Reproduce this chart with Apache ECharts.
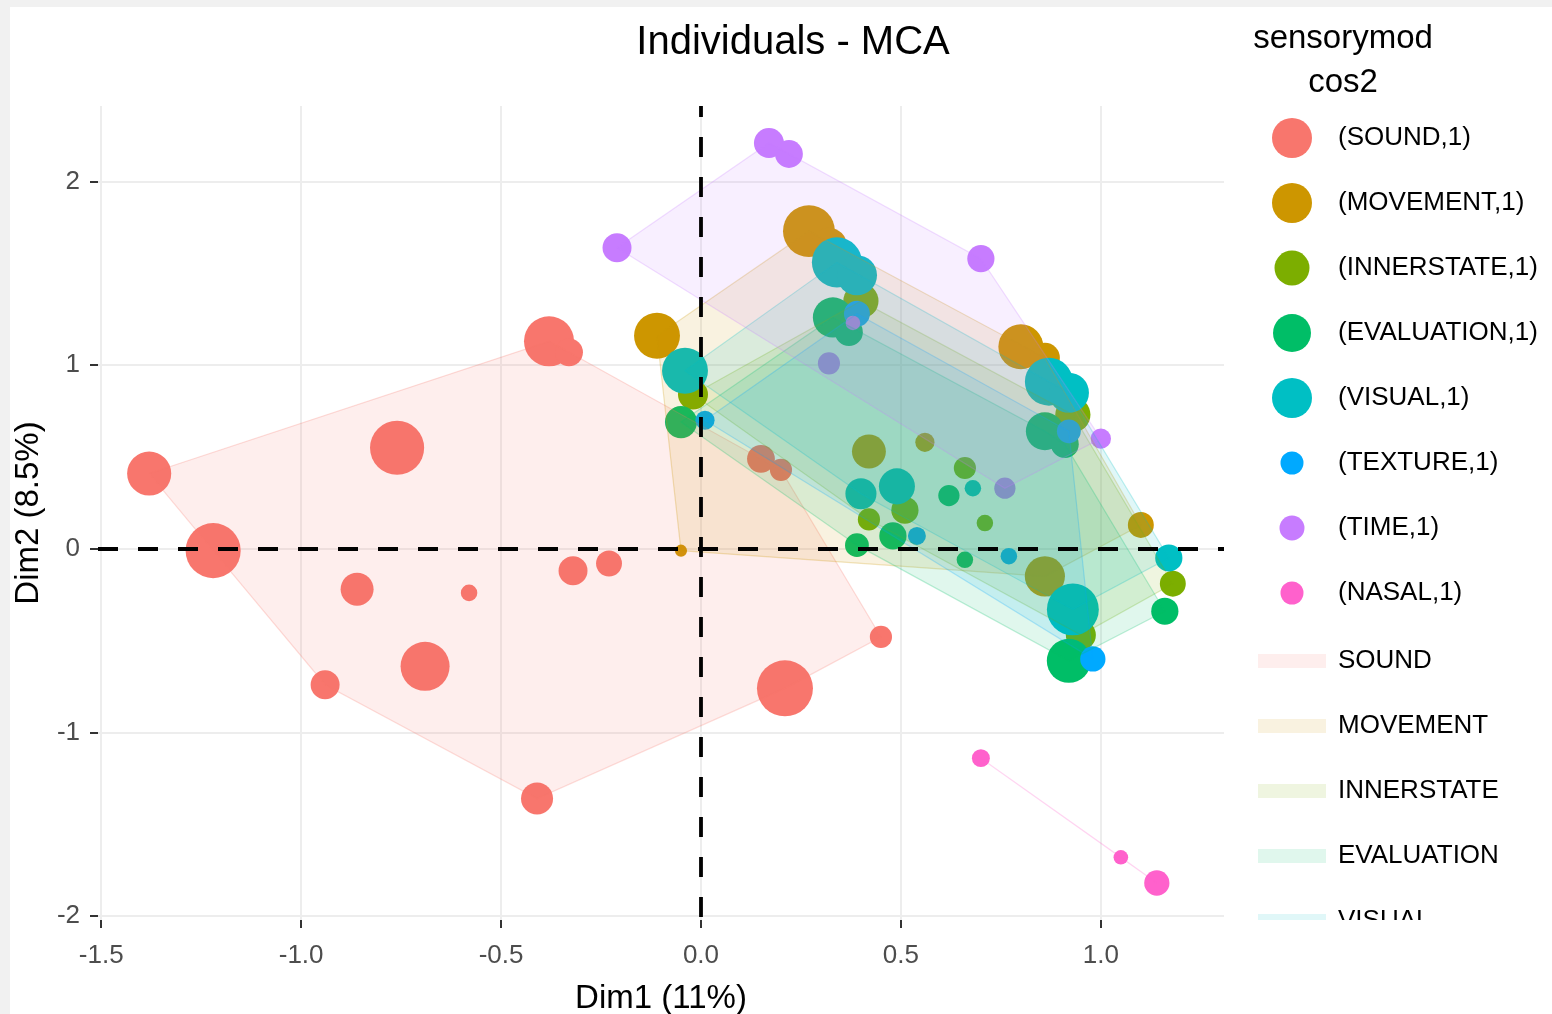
<!DOCTYPE html>
<html>
<head>
<meta charset="utf-8">
<script src="https://cdn.jsdelivr.net/npm/echarts@6/dist/echarts.min.js"></script>
<style>
  html, body { margin: 0; padding: 0; width: 1552px; height: 1014px; overflow: hidden; background: #f1f1f1; }
  #chart { position: absolute; left: 10px; top: 7px; width: 1542px; height: 1007px; background: #ffffff; }
</style>
</head>
<body>
<div id="chart"></div>
<script>
// MCA individuals, coloured by sensory modality; each row is [Dim1, Dim2, cos2]
const soundInd = [
  [-1.38, 0.41, 0.55], [-1.22, -0.01, 0.96], [-0.76, 0.55, 0.92], [-0.86, -0.22, 0.25],
  [-0.58, -0.24, 0.02], [-0.94, -0.74, 0.17], [-0.69, -0.64, 0.72], [-0.41, -1.36, 0.23],
  [-0.32, -0.12, 0.17], [-0.23, -0.08, 0.12], [-0.38, 1.13, 0.76], [-0.33, 1.07, 0.15],
  [0.21, -0.76, 1.00], [0.45, -0.48, 0.07], [0.15, 0.49, 0.15], [0.20, 0.43, 0.07]
];
const movementInd = [
  [0.27, 1.73, 0.83], [0.32, 1.65, 0.32], [-0.11, 1.16, 0.61], [-0.05, -0.01, 0.002],
  [0.56, 0.58, 0.04], [0.80, 1.10, 0.58], [0.86, 1.04, 0.19], [1.10, 0.13, 0.12],
  [0.42, 0.53, 0.27], [0.86, -0.15, 0.43]
];
const innerstateInd = [
  [-0.02, 0.84, 0.19], [0.42, 0.16, 0.07], [0.51, 0.21, 0.14], [0.66, 0.44, 0.07],
  [0.71, 0.14, 0.02], [1.18, -0.19, 0.12], [0.95, -0.47, 0.19], [0.93, 0.73, 0.30],
  [0.40, 1.35, 0.30]
];
const evaluationInd = [
  [-0.05, 0.69, 0.23], [0.39, 0.02, 0.09], [0.48, 0.07, 0.14], [0.62, 0.29, 0.06],
  [0.66, -0.06, 0.02], [1.16, -0.34, 0.14], [0.92, -0.61, 0.55], [0.86, 0.64, 0.37],
  [0.91, 0.57, 0.15], [0.33, 1.26, 0.43], [0.37, 1.18, 0.15]
];
const visualInd = [
  [0.34, 1.56, 0.76], [0.39, 1.49, 0.43], [-0.04, 0.97, 0.61], [0.40, 0.30, 0.21],
  [0.49, 0.34, 0.32], [0.87, 0.91, 0.68], [0.92, 0.85, 0.43], [0.68, 0.33, 0.02],
  [1.17, -0.05, 0.14], [0.93, -0.33, 0.83]
];
const textureInd = [
  [0.01, 0.70, 0.04], [0.54, 0.07, 0.03], [0.77, -0.04, 0.02], [0.98, -0.60, 0.11],
  [0.92, 0.64, 0.09], [0.39, 1.28, 0.12]
];
const timeInd = [
  [0.17, 2.21, 0.19], [0.22, 2.15, 0.15], [-0.21, 1.64, 0.17], [0.70, 1.58, 0.14],
  [1.00, 0.60, 0.05], [0.76, 0.33, 0.06], [0.32, 1.01, 0.07], [0.38, 1.23, 0.01]
];
const nasalInd = [
  [0.70, -1.14, 0.03], [1.05, -1.68, 0.01], [1.14, -1.82, 0.11]
];

const groupNames = ['SOUND', 'MOVEMENT', 'INNERSTATE', 'EVALUATION', 'VISUAL', 'TEXTURE', 'TIME', 'NASAL'];
const groupData = [soundInd, movementInd, innerstateInd, evaluationInd, visualInd, textureInd, timeInd, nasalInd];
const xTicks = [-1.5, -1.0, -0.5, 0.0, 0.5, 1.0];
const yTicks = [-2, -1, 0, 1, 2];

// ---- styling ----
const FONT = '"Liberation Sans", Arial, Helvetica, sans-serif';
const hue = ['#F8766D', '#CD9600', '#7CAE00', '#00BE67', '#00BFC4', '#00A9FF', '#C77CFF', '#FF61CC'];
const legendKeySize = [40, 40, 35, 38, 40, 23, 25, 23];
const HULL_FILL = 0.12, HULL_LINE = 0.25;

function rgba(hex, a) {
  const n = parseInt(hex.slice(1), 16);
  return `rgba(${(n >> 16) & 255},${(n >> 8) & 255},${n & 255},${a})`;
}
// point diameter from cos2 (area grows with cos2)
const pointSize = c => 10 + 46 * Math.sqrt(c);

// panel limits: data range with 5% expansion on each side
const all = groupData.flat();
function expand(vals) {
  const lo = Math.min(...vals), hi = Math.max(...vals), pad = (hi - lo) * 0.05;
  return [lo - pad, hi + pad];
}
const [xMin, xMax] = expand(all.map(p => p[0]));
const [yMin, yMax] = expand(all.map(p => p[1]));

// convex hull (monotone chain)
function convexHull(pts) {
  const p = pts.map(d => [d[0], d[1]]).sort((a, b) => a[0] - b[0] || a[1] - b[1]);
  const cross = (o, a, b) => (a[0] - o[0]) * (b[1] - o[1]) - (a[1] - o[1]) * (b[0] - o[0]);
  const lower = [], upper = [];
  for (const q of p) {
    while (lower.length >= 2 && cross(lower[lower.length - 2], lower[lower.length - 1], q) <= 0) lower.pop();
    lower.push(q);
  }
  for (let i = p.length - 1; i >= 0; i--) {
    const q = p[i];
    while (upper.length >= 2 && cross(upper[upper.length - 2], upper[upper.length - 1], q) <= 0) upper.pop();
    upper.push(q);
  }
  upper.pop(); lower.pop();
  return lower.concat(upper);
}

const series = [];
groupNames.forEach((g, i) => {
  series.push({
    name: '(' + g + ',1)',
    type: 'scatter',
    z: 2,
    silent: true,
    data: groupData[i],
    symbol: 'circle',
    symbolSize: v => pointSize(v[2]),
    itemStyle: { color: hue[i], opacity: 1 },
    emphasis: { disabled: true }
  });
});
groupNames.forEach((g, i) => {
  const hull = convexHull(groupData[i]);
  series.push({
    name: g,
    type: 'custom',
    z: 3,
    silent: true,
    data: groupData[i],
    encode: { x: 0, y: 1 },
    itemStyle: { color: rgba(hue[i], HULL_FILL) },
    renderItem: (params, api) => {
      if (params.dataIndex !== 0) return null;
      return {
        type: 'polygon',
        shape: { points: hull.map(p => api.coord(p)) },
        style: { fill: rgba(hue[i], HULL_FILL), stroke: rgba(hue[i], HULL_LINE), lineWidth: 1.2 }
      };
    }
  });
});
// dashed reference lines through the origin
series.push({
  name: 'origin',
  type: 'scatter',
  data: [],
  z: 5,
  markLine: {
    silent: true,
    symbol: ['none', 'none'],
    label: { show: false },
    lineStyle: { color: '#000000', width: 3.8, type: [20, 20], opacity: 1 },
    emphasis: { disabled: true },
    data: [
      { xAxis: 0, lineStyle: { color: '#000000', width: 3.8, type: [20, 20], dashOffset: 37 } },
      { yAxis: 0, lineStyle: { color: '#000000', width: 3.8, type: [20, 20], dashOffset: 0 } }
    ]
  }
});

// legend: one block per entry so every key keeps its own size
const legends = [];
const pointRowY = [131, 196, 261, 326, 391, 456, 521, 586];
groupNames.forEach((g, i) => {
  const d = legendKeySize[i];
  legends.push({
    data: [{ name: '(' + g + ',1)', icon: 'circle', itemStyle: { color: hue[i] } }],
    left: 1282 - d / 2,
    top: pointRowY[i] - Math.max(d, 26) / 2,
    itemWidth: 82, itemHeight: d,
    padding: 0, selectedMode: false,
    textStyle: { fontSize: 26, lineHeight: 26, color: '#000000', fontFamily: FONT }
  });
});
const hullRowY = [654, 719, 784, 849, 914];
hullRowY.forEach((y, i) => {
  legends.push({
    data: [{ name: groupNames[i], icon: 'rect', itemStyle: { color: rgba(hue[i], HULL_FILL), borderWidth: 0 } }],
    left: 1248,
    top: y - 13,
    itemWidth: 68, itemHeight: 14,
    padding: 0, selectedMode: false,
    textStyle: { fontSize: 26, lineHeight: 26, color: '#000000', fontFamily: FONT, padding: [0, 0, 0, 7] }
  });
});

const axisTickStyle = { color: '#333333', width: 2 };
const chart = echarts.init(document.getElementById('chart'), null, { renderer: 'canvas' });
chart.setOption({
  backgroundColor: '#ffffff',
  animation: false,
  grid: { left: 88, right: 328, top: 99, bottom: 94, containLabel: false, outerBoundsMode: 'none' },
  xAxis: {
    type: 'value', min: xMin, max: xMax,
    axisLine: { show: true, onZero: false, lineStyle: { color: 'rgba(0,0,0,0)' } },
    axisTick: { show: true, customValues: xTicks, length: 8, lineStyle: axisTickStyle },
    axisLabel: { customValues: xTicks, formatter: v => v.toFixed(1), margin: 23, color: '#4d4d4d', fontSize: 26, fontFamily: FONT },
    splitLine: { show: true, lineStyle: { color: '#ededed', width: 2 } },
    name: 'Dim1 (11%)', nameLocation: 'middle', nameGap: 62,
    nameTextStyle: { fontSize: 33, color: '#000000', fontFamily: FONT }
  },
  yAxis: {
    type: 'value', min: yMin, max: yMax,
    axisLine: { show: true, onZero: false, lineStyle: { color: 'rgba(0,0,0,0)' } },
    axisTick: { show: true, customValues: yTicks, length: 8, lineStyle: axisTickStyle },
    axisLabel: { customValues: yTicks, formatter: v => String(v), margin: 18, color: '#4d4d4d', fontSize: 26, fontFamily: FONT },
    splitLine: { show: true, lineStyle: { color: '#ededed', width: 2 } },
    name: 'Dim2 (8.5%)', nameLocation: 'middle', nameGap: 53,
    nameTextStyle: { fontSize: 33, color: '#000000', fontFamily: FONT }
  },
  legend: legends,
  graphic: [
    { type: 'text', x: 783, y: 36, z: 10, style: { text: 'Individuals - MCA', fill: '#000000', font: '40px ' + FONT, align: 'center', verticalAlign: 'middle' } },
    { type: 'text', x: 1333, y: 32, z: 10, style: { text: 'sensorymod', fill: '#000000', font: '33px ' + FONT, align: 'center', verticalAlign: 'middle' } },
    { type: 'text', x: 1333, y: 76, z: 10, style: { text: 'cos2', fill: '#000000', font: '33px ' + FONT, align: 'center', verticalAlign: 'middle' } },
    // legend area ends at the plot's lower edge
    { type: 'rect', x: 1232, y: 913, z: 100, shape: { width: 310, height: 94 }, style: { fill: '#ffffff' }, silent: true }
  ],
  series: series
});
</script>
</body>
</html>
